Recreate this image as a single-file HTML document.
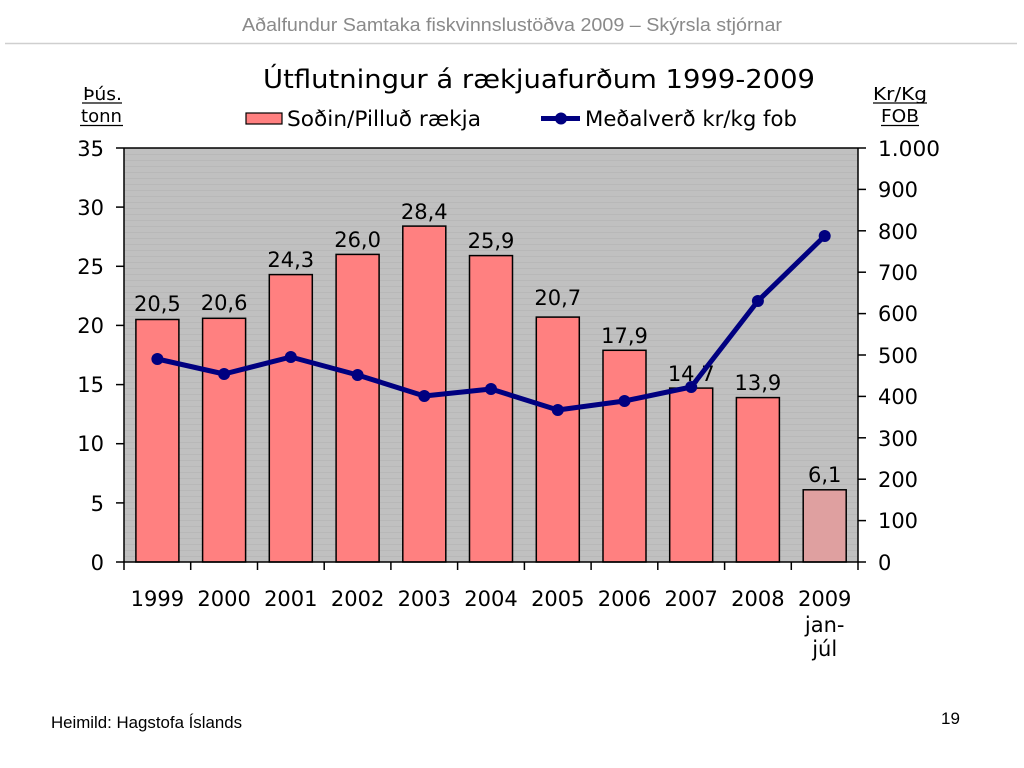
<!DOCTYPE html>
<html>
<head>
<meta charset="utf-8">
<style>
html,body{margin:0;padding:0;background:#fff;}
svg{display:block;}
</style>
</head>
<body>
<svg width="1024" height="768" viewBox="0 0 1024 768" xmlns="http://www.w3.org/2000/svg">
<rect x="0" y="0" width="1024" height="768" fill="#ffffff"/>
<!-- header -->
<text x="512" y="31" text-anchor="middle" font-family="Liberation Sans, sans-serif" font-size="18" fill="#8a8a8a" textLength="540" lengthAdjust="spacingAndGlyphs">Aðalfundur Samtaka fiskvinnslustöðva 2009 – Skýrsla stjórnar</text>
<line x1="5" y1="43.5" x2="1017" y2="43.5" stroke="#cfcfcf" stroke-width="1.5"/>

<!-- title -->
<text x="263" y="88" font-family="DejaVu Sans, sans-serif" font-size="26" fill="#000" textLength="552" lengthAdjust="spacingAndGlyphs">Útflutningur á rækjuafurðum 1999-2009</text>

<!-- legend -->
<rect x="246" y="113" width="36" height="11" fill="#ff8080" stroke="#000" stroke-width="1.2"/>
<text x="287" y="126" font-family="DejaVu Sans, sans-serif" font-size="21" fill="#000" textLength="194" lengthAdjust="spacingAndGlyphs">Soðin/Pilluð rækja</text>
<line x1="541" y1="118.5" x2="580" y2="118.5" stroke="#000080" stroke-width="5"/>
<circle cx="561" cy="118.5" r="6" fill="#000080"/>
<text x="585" y="126" font-family="DejaVu Sans, sans-serif" font-size="21" fill="#000" textLength="212" lengthAdjust="spacingAndGlyphs">Meðalverð kr/kg fob</text>

<!-- axis unit labels -->
<g font-family="DejaVu Sans, sans-serif" font-size="18" fill="#000">
<text x="83" y="100" textLength="39" lengthAdjust="spacingAndGlyphs">Þús.</text>
<line x1="82" y1="103" x2="122" y2="103" stroke="#000" stroke-width="1.2"/>
<text x="81" y="122" textLength="41" lengthAdjust="spacingAndGlyphs">tonn</text>
<line x1="80" y1="125.5" x2="123" y2="125.5" stroke="#000" stroke-width="1.2"/>
<text x="873" y="100" textLength="54" lengthAdjust="spacingAndGlyphs">Kr/Kg</text>
<line x1="873" y1="103" x2="927" y2="103" stroke="#000" stroke-width="1.2"/>
<text x="881" y="122" textLength="38" lengthAdjust="spacingAndGlyphs">FOB</text>
<line x1="881" y1="125.5" x2="919" y2="125.5" stroke="#000" stroke-width="1.2"/>
</g>

<!-- plot area -->
<defs>
<pattern id="stripes" x="0" y="148" width="10" height="6" patternUnits="userSpaceOnUse">
<rect x="0" y="0" width="10" height="6" fill="#c0c0c0"/>
<rect x="0" y="0" width="10" height="1" fill="#b8b8b8"/>
</pattern>
</defs>
<rect x="124" y="148" width="734" height="414" fill="url(#stripes)"/>

<!-- bars -->
<g stroke="#000" stroke-width="1.5" fill="#ff8080">
<rect x="135.9" y="319.5" width="43" height="242.5"/>
<rect x="202.6" y="318.3" width="43" height="243.7"/>
<rect x="269.3" y="274.6" width="43" height="287.4"/>
<rect x="336.1" y="254.4" width="43" height="307.6"/>
<rect x="402.8" y="226.1" width="43" height="335.9"/>
<rect x="469.5" y="255.6" width="43" height="306.4"/>
<rect x="536.3" y="317.1" width="43" height="244.9"/>
<rect x="603.0" y="350.3" width="43" height="211.7"/>
<rect x="669.7" y="388.1" width="43" height="173.9"/>
<rect x="736.4" y="397.6" width="43" height="164.4"/>
<rect x="803.2" y="489.8" width="43" height="72.2" fill="#dfa0a0"/>
</g>

<!-- data labels -->
<g font-family="DejaVu Sans, sans-serif" font-size="21" fill="#000" text-anchor="middle">
<text x="157.4" y="311">20,5</text>
<text x="224.1" y="310">20,6</text>
<text x="290.8" y="267">24,3</text>
<text x="357.6" y="247">26,0</text>
<text x="424.3" y="219">28,4</text>
<text x="491.0" y="248">25,9</text>
<text x="557.8" y="305">20,7</text>
<text x="624.5" y="343">17,9</text>
<text x="691.2" y="381">14,7</text>
<text x="757.9" y="390">13,9</text>
<text x="824.7" y="482">6,1</text>
</g>

<!-- axes -->
<g stroke="#000" stroke-width="1.5">
<line x1="124" y1="148" x2="858" y2="148"/>
<line x1="124" y1="148" x2="124" y2="562"/>
<line x1="858" y1="148" x2="858" y2="570"/>
<line x1="116" y1="562" x2="858" y2="562"/>
<line x1="116" y1="148" x2="124" y2="148"/>
<line x1="116" y1="207.1" x2="124" y2="207.1"/>
<line x1="116" y1="266.3" x2="124" y2="266.3"/>
<line x1="116" y1="325.4" x2="124" y2="325.4"/>
<line x1="116" y1="384.6" x2="124" y2="384.6"/>
<line x1="116" y1="443.7" x2="124" y2="443.7"/>
<line x1="116" y1="502.9" x2="124" y2="502.9"/>
<line x1="858" y1="148" x2="866" y2="148"/>
<line x1="858" y1="189.4" x2="866" y2="189.4"/>
<line x1="858" y1="230.8" x2="866" y2="230.8"/>
<line x1="858" y1="272.2" x2="866" y2="272.2"/>
<line x1="858" y1="313.6" x2="866" y2="313.6"/>
<line x1="858" y1="355" x2="866" y2="355"/>
<line x1="858" y1="396.4" x2="866" y2="396.4"/>
<line x1="858" y1="437.8" x2="866" y2="437.8"/>
<line x1="858" y1="479.2" x2="866" y2="479.2"/>
<line x1="858" y1="520.6" x2="866" y2="520.6"/>
<line x1="858" y1="562" x2="866" y2="562"/>
<line x1="124" y1="562" x2="124" y2="570"/>
<line x1="190.7" y1="562" x2="190.7" y2="570"/>
<line x1="257.5" y1="562" x2="257.5" y2="570"/>
<line x1="324.2" y1="562" x2="324.2" y2="570"/>
<line x1="390.9" y1="562" x2="390.9" y2="570"/>
<line x1="457.6" y1="562" x2="457.6" y2="570"/>
<line x1="524.4" y1="562" x2="524.4" y2="570"/>
<line x1="591.1" y1="562" x2="591.1" y2="570"/>
<line x1="657.8" y1="562" x2="657.8" y2="570"/>
<line x1="724.6" y1="562" x2="724.6" y2="570"/>
<line x1="791.3" y1="562" x2="791.3" y2="570"/>
</g>

<!-- line series -->
<polyline fill="none" stroke="#000080" stroke-width="5" stroke-linejoin="round"
points="157.4,359 224.1,374 290.8,357 357.6,375 424.3,396 491.0,389 557.8,410 624.5,401 691.2,387 757.9,301 824.7,236"/>
<g fill="#000080">
<circle cx="157.4" cy="359" r="6"/>
<circle cx="224.1" cy="374" r="6"/>
<circle cx="290.8" cy="357" r="6"/>
<circle cx="357.6" cy="375" r="6"/>
<circle cx="424.3" cy="396" r="6"/>
<circle cx="491.0" cy="389" r="6"/>
<circle cx="557.8" cy="410" r="6"/>
<circle cx="624.5" cy="401" r="6"/>
<circle cx="691.2" cy="387" r="6"/>
<circle cx="757.9" cy="301" r="6"/>
<circle cx="824.7" cy="236" r="6"/>
</g>

<!-- left axis labels -->
<g font-family="DejaVu Sans, sans-serif" font-size="21" fill="#000" text-anchor="end">
<text x="104" y="156">35</text>
<text x="104" y="215">30</text>
<text x="104" y="274">25</text>
<text x="104" y="333">20</text>
<text x="104" y="392">15</text>
<text x="104" y="451">10</text>
<text x="104" y="511">5</text>
<text x="104" y="570">0</text>
</g>

<!-- right axis labels -->
<g font-family="DejaVu Sans, sans-serif" font-size="21" fill="#000" text-anchor="start">
<text x="878" y="156" textLength="62" lengthAdjust="spacingAndGlyphs">1.000</text>
<text x="878" y="197" textLength="40" lengthAdjust="spacingAndGlyphs">900</text>
<text x="878" y="239" textLength="40" lengthAdjust="spacingAndGlyphs">800</text>
<text x="878" y="280" textLength="40" lengthAdjust="spacingAndGlyphs">700</text>
<text x="878" y="321" textLength="40" lengthAdjust="spacingAndGlyphs">600</text>
<text x="878" y="363" textLength="40" lengthAdjust="spacingAndGlyphs">500</text>
<text x="878" y="404" textLength="40" lengthAdjust="spacingAndGlyphs">400</text>
<text x="878" y="446" textLength="40" lengthAdjust="spacingAndGlyphs">300</text>
<text x="878" y="487" textLength="40" lengthAdjust="spacingAndGlyphs">200</text>
<text x="878" y="528" textLength="40" lengthAdjust="spacingAndGlyphs">100</text>
<text x="878" y="570">0</text>
</g>

<!-- x labels -->
<g font-family="DejaVu Sans, sans-serif" font-size="21" fill="#000" text-anchor="middle">
<text x="157.4" y="606">1999</text>
<text x="224.1" y="606">2000</text>
<text x="290.8" y="606">2001</text>
<text x="357.6" y="606">2002</text>
<text x="424.3" y="606">2003</text>
<text x="491.0" y="606">2004</text>
<text x="557.8" y="606">2005</text>
<text x="624.5" y="606">2006</text>
<text x="691.2" y="606">2007</text>
<text x="757.9" y="606">2008</text>
<text x="824.7" y="606">2009</text>
<text x="824.7" y="632">jan-</text>
<text x="824.7" y="656">júl</text>
</g>

<!-- footer -->
<text x="51" y="728" font-family="Liberation Sans, sans-serif" font-size="16.5" fill="#000" textLength="191" lengthAdjust="spacingAndGlyphs">Heimild: Hagstofa Íslands</text>
<text x="941" y="724" font-family="Liberation Sans, sans-serif" font-size="17" fill="#000">19</text>
</svg>
</body>
</html>
